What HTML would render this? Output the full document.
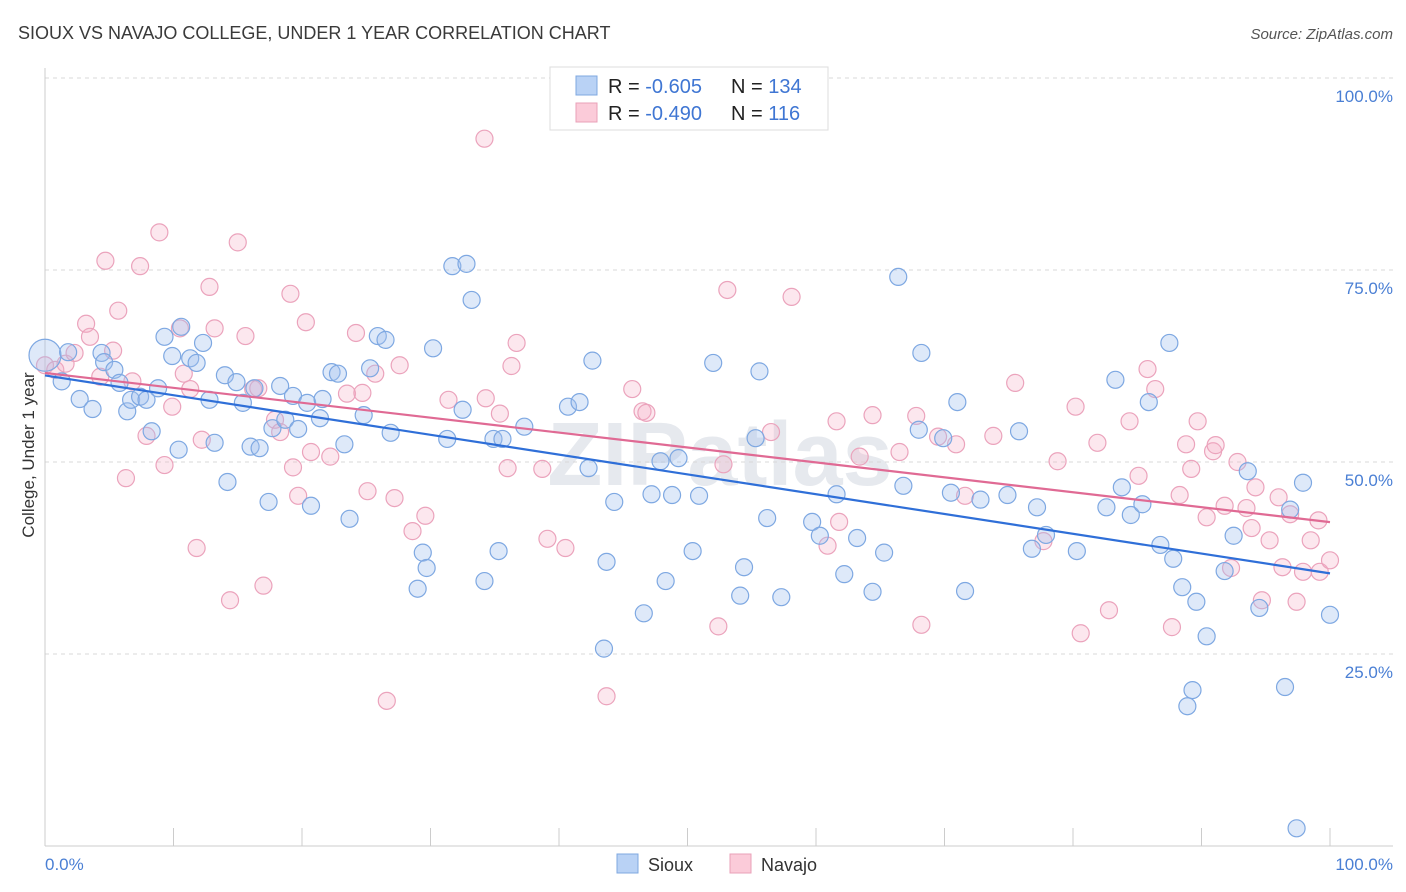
<!DOCTYPE html>
<html><head><meta charset="utf-8">
<style>
body{margin:0;background:#fff;font-family:"Liberation Sans",sans-serif;}
svg{display:block}
</style></head>
<body>
<svg id="chart" width="1406" height="892">
<text x="18" y="39" font-size="18" fill="#3a3a3a">SIOUX VS NAVAJO COLLEGE, UNDER 1 YEAR CORRELATION CHART</text>
<text x="1393" y="39" font-size="15" fill="#555" font-style="italic" text-anchor="end">Source: ZipAtlas.com</text>
<text x="720" y="485" font-size="90" fill="#e6e9ee" text-anchor="middle" font-weight="bold">ZIPatlas</text>
<g id="grid"></g>
<g id="pts"></g>
<g id="trend"></g>
<text transform="translate(34,455) rotate(-90)" font-size="17" fill="#333" text-anchor="middle">College, Under 1 year</text>
<text x="45" y="870" font-size="17" fill="#4a7fd4">0.0%</text>
<text x="1393" y="870" font-size="17" fill="#4a7fd4" text-anchor="end">100.0%</text>
<g>
<rect x="550" y="67" width="278" height="63" fill="#fff" stroke="#ddd"/>
<rect x="576" y="76" width="21" height="19" fill="#b9d2f5" stroke="#7fa8e0"/>
<rect x="576" y="103" width="21" height="19" fill="#fbcbd9" stroke="#eaa0b8"/>
<text x="608" y="93" font-size="20" fill="#222">R = <tspan fill="#3f76d3">-0.605</tspan></text>
<text x="731" y="93" font-size="20" fill="#222">N = <tspan fill="#3f76d3">134</tspan></text>
<text x="608" y="120" font-size="20" fill="#222">R = <tspan fill="#3f76d3">-0.490</tspan></text>
<text x="731" y="120" font-size="20" fill="#222">N = <tspan fill="#3f76d3"> 116</tspan></text>
</g>
<g>
<rect x="617" y="854" width="21" height="19" fill="#b9d2f5" stroke="#7fa8e0"/>
<text x="648" y="871" font-size="18" fill="#333">Sioux</text>
<rect x="730" y="854" width="21" height="19" fill="#fbcbd9" stroke="#eaa0b8"/>
<text x="761" y="871" font-size="18" fill="#333">Navajo</text>
</g>
</svg>
<script>
const yTicks=[25,50,75,100];
const xTicks=[0,10,20,30,40,50,60,70,80,90,100];
const siouxX=[0,1.3,1.8,2.7,3.7,4.4,4.6,5.4,5.8,6.4,6.7,7.4,7.9,8.3,8.8,9.3,9.9,10.4,10.6,11.3,11.8,12.3,12.8,13.2,14.0,14.2,14.9,15.4,16.0,16.3,16.7,17.4,17.7,18.3,18.7,19.3,19.7,20.4,20.7,21.4,21.6,22.3,22.8,23.3,23.7,24.8,25.3,25.9,26.5,26.9,29.0,29.4,29.7,30.2,31.3,31.7,32.5,32.8,33.2,34.2,34.9,35.3,35.6,37.3,40.7,41.6,42.3,42.6,43.5,43.7,44.3,46.6,47.2,47.9,48.3,48.8,49.3,50.4,50.9,52.0,54.1,54.4,55.3,55.6,56.2,57.3,59.7,60.3,61.6,62.2,63.2,64.4,65.3,66.4,66.8,68.0,68.2,69.9,70.5,71.0,71.6,72.8,74.9,75.8,76.8,77.2,77.9,80.3,82.6,83.3,83.8,84.5,85.4,85.9,86.8,87.5,87.8,88.5,88.9,89.3,89.6,90.4,91.8,92.5,93.6,94.5,96.5,96.9,97.4,97.9,100];
const siouxY=[63.9,60.5,64.3,58.2,56.9,64.2,63.0,62.0,60.3,56.6,58.1,58.5,58.1,54.0,59.6,66.3,63.8,51.6,67.6,63.5,62.9,65.5,58.1,52.5,61.3,47.4,60.4,57.7,52.0,59.6,51.8,44.8,54.4,59.9,55.5,58.6,54.3,57.7,44.3,55.7,58.2,61.7,61.5,52.3,42.6,56.1,62.2,66.4,65.9,53.8,33.5,38.2,36.2,64.8,53.0,75.5,56.8,75.8,71.1,34.5,53.0,38.4,53.0,54.6,57.2,57.8,49.2,63.2,25.7,37.0,44.8,30.3,45.8,50.1,34.5,45.7,50.5,38.4,45.6,62.9,32.6,36.3,53.1,61.8,42.7,32.4,42.2,40.4,45.8,35.4,40.1,33.1,38.2,74.1,46.9,54.2,64.2,53.1,46.0,57.8,33.2,45.1,45.7,54.0,38.7,44.1,40.5,38.4,44.1,60.7,46.7,43.1,44.5,57.8,39.2,65.5,37.4,33.7,18.2,20.3,31.8,27.3,35.8,40.4,48.8,31.0,20.7,43.8,2.3,47.3,30.1];
const navajoX=[0,0.8,1.6,2.3,3.2,3.5,4.3,4.7,5.3,5.7,6.3,6.8,7.4,7.9,8.9,9.3,9.9,10.5,10.8,11.3,11.8,12.2,12.8,13.2,14.4,15.0,15.6,16.2,16.6,17.0,17.9,18.3,19.1,19.3,19.7,20.3,20.7,22.2,23.5,24.2,24.7,25.1,25.7,26.6,27.2,27.6,28.6,29.6,31.4,34.2,34.3,35.4,36.0,36.3,36.7,38.7,39.1,40.5,43.7,45.7,46.5,46.8,52.4,52.8,53.1,56.5,58.1,60.9,61.6,61.8,63.4,64.4,66.5,67.8,68.2,69.5,70.9,71.6,73.8,75.5,77.7,78.8,80.2,80.6,81.9,82.8,84.4,85.1,85.8,86.4,87.7,88.3,88.8,89.2,89.7,90.4,90.9,91.1,91.8,92.3,92.8,93.5,93.9,94.2,94.7,95.3,96.0,96.3,96.9,97.4,97.9,98.5,99.2,100,99.1];
const navajoY=[62.6,62.0,62.8,64.2,68.0,66.3,61.1,76.2,64.5,69.7,47.9,60.5,75.5,53.4,79.9,49.6,57.2,67.4,61.5,59.5,38.8,52.9,72.8,67.4,32.0,78.6,66.4,59.5,59.6,33.9,55.5,53.9,71.9,49.3,45.6,68.2,51.3,50.7,58.9,66.8,59.0,46.2,61.5,18.9,45.3,62.6,41.0,43.0,58.1,92.1,58.3,56.3,49.2,62.5,65.5,49.1,40.0,38.8,19.5,59.5,56.6,56.4,28.6,49.7,72.4,53.9,71.5,39.1,55.3,42.2,50.7,56.1,51.3,56.0,28.8,53.3,52.3,45.6,53.4,60.3,39.7,50.1,57.2,27.7,52.5,30.7,55.3,48.2,62.1,59.5,28.5,45.7,52.3,49.1,55.3,42.8,51.4,52.2,44.3,36.2,50.0,44.0,41.4,46.7,32.0,39.8,45.4,36.3,43.2,31.8,35.7,39.8,35.7,37.2,42.4];
const X0=45,X1=1330,Y0=846,Y100=78;
const sx=v=>X0+(X1-X0)*v/100;
const sy=v=>Y0-(Y0-Y100)*v/100;
const NS="http://www.w3.org/2000/svg";
const grid=document.getElementById('grid');
function mk(tag,attrs,parent){const e=document.createElementNS(NS,tag);for(const k in attrs)e.setAttribute(k,attrs[k]);parent.appendChild(e);return e;}
yTicks.forEach(t=>{
  const l=mk('line',{x1:45,x2:1393,y1:sy(t),y2:sy(t),stroke:'#d8d8d8','stroke-dasharray':'4,4'},grid);
  
  
  const tx=mk('text',{x:1393,y:sy(t)+24,'font-size':17,fill:'#4a7fd4','text-anchor':'end'},grid);
  tx.textContent=t.toFixed(1)+'%';
  
  
});
const ax=mk('line',{x1:45,x2:45,y1:68,y2:846,stroke:'#ccc'},grid);


const bx=mk('line',{x1:45,x2:1393,y1:846,y2:846,stroke:'#ccc'},grid);


xTicks.forEach(t=>{
  const l=mk('line',{x1:sx(t),x2:sx(t),y1:828,y2:846,stroke:'#ccc'},grid);
  
  
});
const pts=document.getElementById('pts');
function drawSeries(xs,ys,fill,stroke,name){
  xs.forEach((x,i)=>{
    const c=mk('circle',{cx:sx(x),cy:sy(ys[i]),r:(i===0&&name==='sioux')?16:8.5,fill:fill,stroke:stroke,'stroke-width':1.2},pts);
    
    
  });
}
drawSeries(navajoX,navajoY,'rgba(245,175,200,0.3)','#eba3bc','navajo');
drawSeries(siouxX,siouxY,'rgba(160,192,238,0.35)','#7ea8e2','sioux');
function fit(xs,ys){const n=xs.length;let mx=0,my=0;xs.forEach((x,i)=>{mx+=x;my+=ys[i];});mx/=n;my/=n;let a=0,b=0;xs.forEach((x,i)=>{a+=(x-mx)*(ys[i]-my);b+=(x-mx)*(x-mx);});const m=a/b;return [my-m*mx,m];}
const tr=document.getElementById('trend');
[[siouxX,siouxY,'#2f6fd8','sioux-trendline'],[navajoX,navajoY,'#e06a94','navajo-trendline']].forEach(([xs,ys,col,nm])=>{
  const [b,m]=fit(xs,ys);
  const l=mk('line',{x1:sx(0),y1:sy(b),x2:sx(100),y2:sy(b+100*m),stroke:col,'stroke-width':2.2},tr);
  
  
});
</script>
</body></html>
